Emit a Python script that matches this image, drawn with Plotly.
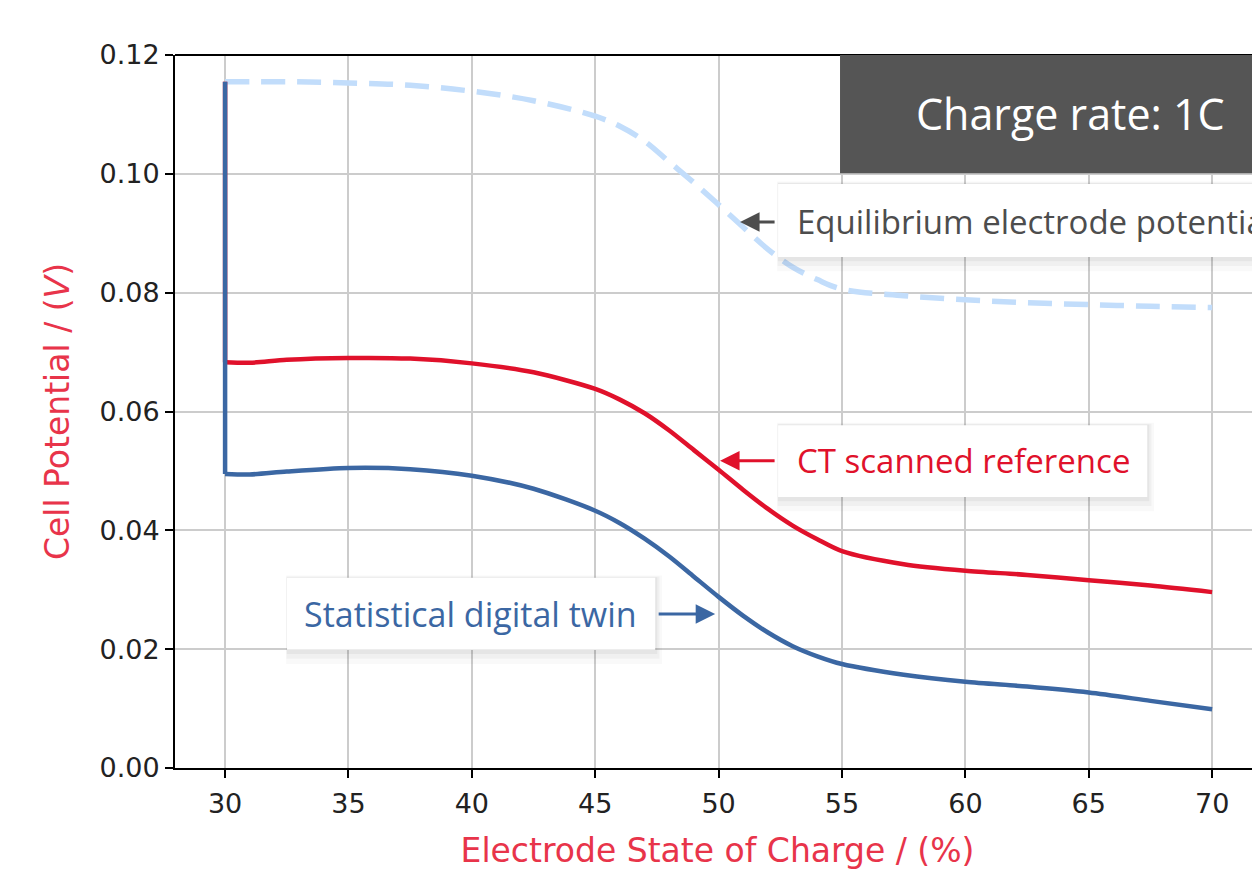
import plotly.graph_objects as go

# ---- data ----
soc = [30, 30, 31, 32.5, 35, 37.5, 40, 42.5, 45, 46, 47, 48, 49, 50, 51, 52, 53, 54, 55, 57.5, 60, 62.5, 65, 67.5, 70]
ct_ref = [0.1155, 0.0683, 0.0682, 0.0687, 0.0690, 0.0689, 0.0681, 0.0666, 0.0638, 0.0620, 0.0597, 0.0568, 0.0535,
          0.0502, 0.0468, 0.0436, 0.0408, 0.0385, 0.0365, 0.0343, 0.0332, 0.0325, 0.0316, 0.0307, 0.0296]
twin = [0.1155, 0.0495, 0.0494, 0.0499, 0.0505, 0.0503, 0.0492, 0.0470, 0.0433, 0.0412, 0.0386, 0.0356, 0.0322,
        0.0288, 0.0256, 0.0228, 0.0205, 0.0188, 0.0175, 0.0157, 0.0145, 0.0137, 0.0127, 0.0113, 0.0099]
soc_eq = [30, 32.5, 35, 37.5, 40, 42.5, 45, 46, 47, 48, 49, 50, 51, 52, 53, 54, 55, 57.5, 60, 62.5, 65, 67.5, 70]
equilibrium = [0.1155, 0.1155, 0.1153, 0.1149, 0.1139, 0.1123, 0.1097, 0.1080, 0.1055, 0.1020, 0.0985, 0.0948,
               0.0910, 0.0873, 0.0843, 0.0822, 0.0806, 0.0795, 0.0788, 0.0783, 0.0780, 0.0777, 0.0775]
x_ticks = [30, 35, 40, 45, 50, 55, 60, 65, 70]
y_ticks = [0.00, 0.02, 0.04, 0.06, 0.08, 0.10, 0.12]

RED = "#e0112b"
BLUE = "#3b67a3"
EQ = "#c2ddfb"
GRAY_TXT = "#4d4d4d"
TITLE_RED = "#e8344a"

fig = go.Figure()
fig.add_trace(go.Scatter(x=soc_eq, y=equilibrium, mode="lines", line=dict(color=EQ, width=5.5, dash="24px,12px"),
                         line_shape="spline", showlegend=False))
# vertical drop at the start, then the smooth curves
fig.add_trace(go.Scatter(x=soc[:2], y=ct_ref[:2], mode="lines", line=dict(color=RED, width=4.5), showlegend=False))
fig.add_trace(go.Scatter(x=soc[1:], y=ct_ref[1:], mode="lines", line=dict(color=RED, width=4.5, shape="spline", smoothing=0.8),
                         showlegend=False))
fig.add_trace(go.Scatter(x=soc[:2], y=twin[:2], mode="lines", line=dict(color=BLUE, width=4.5), showlegend=False))
fig.add_trace(go.Scatter(x=soc[1:], y=twin[1:], mode="lines", line=dict(color=BLUE, width=4.5, shape="spline", smoothing=0.8),
                         showlegend=False))

tick_font = dict(family="DejaVu Sans", size=27, color="#222222")
title_font = dict(family="DejaVu Sans", size=33, color=TITLE_RED)

fig.update_layout(
    width=1252, height=865,
    margin=dict(l=167, r=0, t=47, b=105),
    paper_bgcolor="white", plot_bgcolor="white",
    xaxis=dict(range=[27.97, 71.94], tickvals=x_ticks, ticktext=[str(v) for v in x_ticks],
               showgrid=True, gridcolor="#cccccc", gridwidth=1.5, zeroline=False,
               showline=True, linecolor="black", linewidth=2, mirror=False,
               ticks="outside", ticklen=8, tickwidth=2, tickcolor="black",
               tickfont=tick_font, ticklabelstandoff=3,
               title=dict(text="Electrode State of Charge / (%)", font=title_font, standoff=20)),
    yaxis=dict(range=[0, 0.12], tickvals=y_ticks, ticktext=[f"{v:.2f}" for v in y_ticks],
               showgrid=True, gridcolor="#cccccc", gridwidth=1.5, zeroline=False,
               showline=True, linecolor="black", linewidth=2, mirror=False,
               ticks="outside", ticklen=8, tickwidth=2, tickcolor="black",
               tickfont=tick_font,
               title=dict(text="Cell Potential / (<i>V</i>)", font=title_font, standoff=20)),
)

# top spine
fig.add_shape(type="line", xref="paper", yref="paper", x0=0, x1=1, y0=1, y1=1,
              line=dict(color="black", width=2), layer="above")

# dark "charge rate" box
fig.add_shape(type="rect", xref="x", yref="y", x0=54.92, x1=73, y0=0.1001, y1=0.12,
              fillcolor="#555555", line=dict(width=0), layer="above")
fig.add_annotation(x=64.25, y=0.1102, xref="x", yref="y", text="Charge rate: 1C", showarrow=False,
                   font=dict(family="Open Sans", size=43, color="white"), xanchor="center", yanchor="middle")

# white label boxes with soft shadow
def label_box(x0, x1, y0, y1):
    for k, a in [(4, 0.025), (2.5, 0.035), (1.2, 0.045)]:
        fig.add_shape(type="rect", xref="x", yref="y",
                      x0=x0 - 0.01 * k, x1=x1 + 0.07 * k, y0=y0 - 0.0006 * k, y1=y1 + 0.0001 * k,
                      fillcolor=f"rgba(0,0,0,{a})", line=dict(width=0), layer="above")
    fig.add_shape(type="rect", xref="x", yref="y", x0=x0, x1=x1, y0=y0, y1=y1,
                  fillcolor="white", line=dict(width=0), layer="above")

label_box(52.41, 73, 0.0860, 0.0983)
label_box(52.41, 67.37, 0.0456, 0.0577)
label_box(32.51, 47.43, 0.0199, 0.0320)

fig.add_annotation(x=53.1, y=0.0919, xref="x", yref="y", text="Equilibrium electrode potential", showarrow=False,
                   font=dict(family="Open Sans", size=33, color=GRAY_TXT), xanchor="left", yanchor="middle")
fig.add_annotation(x=53.1, y=0.0517, xref="x", yref="y", text="CT scanned reference", showarrow=False,
                   font=dict(family="Open Sans", size=33, color=RED), xanchor="left", yanchor="middle")
fig.add_annotation(x=33.12, y=0.0259, xref="x", yref="y", text="Statistical digital twin", showarrow=False,
                   font=dict(family="Open Sans", size=34, color=BLUE), xanchor="left", yanchor="middle")

# arrows
fig.add_annotation(x=50.87, y=0.0919, xref="x", yref="y", ax=36, ay=0, text="", showarrow=True,
                   arrowhead=2, arrowsize=1.3, arrowwidth=3, arrowcolor=GRAY_TXT)
fig.add_annotation(x=50.06, y=0.0517, xref="x", yref="y", ax=56, ay=0, text="", showarrow=True,
                   arrowhead=2, arrowsize=1.3, arrowwidth=3, arrowcolor=RED)
fig.add_annotation(x=49.86, y=0.0259, xref="x", yref="y", ax=-58, ay=0, text="", showarrow=True,
                   arrowhead=2, arrowsize=1.3, arrowwidth=3, arrowcolor=BLUE)

fig.write_html("out.html")
